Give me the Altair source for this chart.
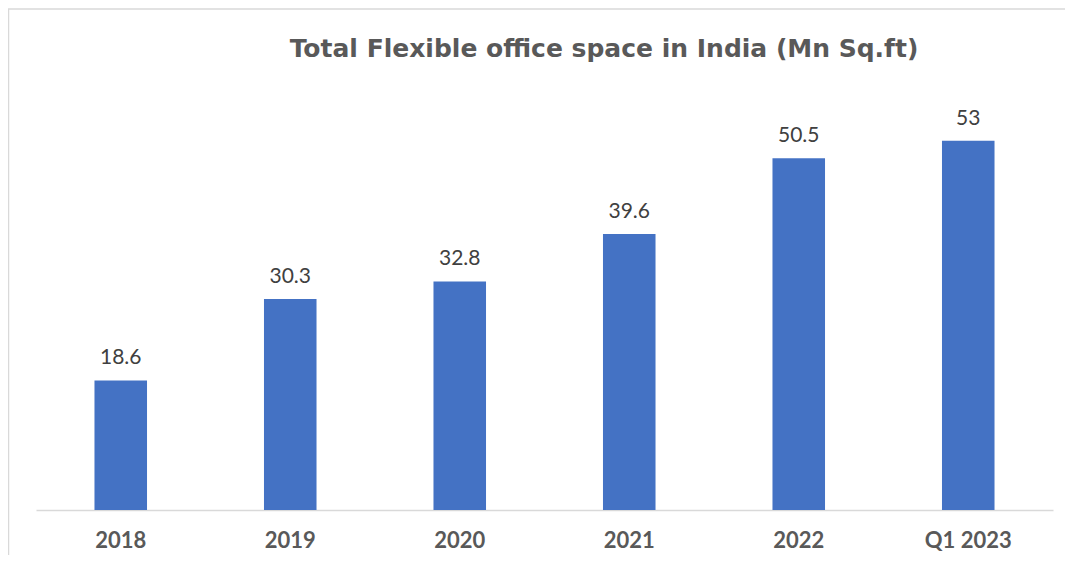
import altair as alt
import pandas as pd

categories = ["2018", "2019", "2020", "2021", "2022", "Q1 2023"]
values = [18.6, 30.3, 32.8, 39.6, 50.5, 53]
labels = ["18.6", "30.3", "32.8", "39.6", "50.5", "53"]
title_text = ["Total Flexible office space in India  (Mn Sq.ft)"]

df = pd.DataFrame({"cat": categories, "val": values, "lab": labels})
tdf = pd.DataFrame({"t": title_text})

W, H = 1017, 418

x = alt.X("cat:N", sort=categories, title=None,
          scale=alt.Scale(paddingInner=0.69, paddingOuter=0.345),
          axis=alt.Axis(labelAngle=0, ticks=False, domainColor="#d9d9d9", domainWidth=1.5,
                        labelFont="Lato", labelFontWeight="bold", labelFontSize=22,
                        labelColor="#595959", labelPadding=37, labelBaseline="alphabetic"))
y = alt.Y("val:Q", scale=alt.Scale(domain=[0, 60]), axis=None)

bars = alt.Chart(df).mark_bar(color="#4472C4").encode(x=x, y=y)
text = alt.Chart(df).mark_text(font="Lato", fontSize=21, color="#404040", dy=-16,
                               baseline="alphabetic").encode(x=x, y=y, text="lab:N")

frame = alt.Chart(tdf).mark_rect(fill="transparent", stroke="#d9d9d9", strokeWidth=1.5, clip=False).encode(
    x=alt.value(-27.5), x2=alt.value(W + 40), y=alt.value(-83), y2=alt.value(H + 80))

title = alt.Chart(tdf).mark_text(font="DejaVu Sans", fontSize=25, fontWeight="bold", color="#595959",
                                 baseline="alphabetic", align="center").encode(
    x=alt.value(568), y=alt.value(-35), text="t:N")

chart = alt.layer(frame, bars, text, title).properties(
    width=W, height=H,
    autosize=alt.AutoSizeParams(type="none"),
    padding={"left": 28, "top": 84, "right": 12, "bottom": 45},
).configure(background="white").configure_view(strokeWidth=0, stroke="transparent")

chart.save("out.html", embed_options={"renderer": "svg", "actions": False})
